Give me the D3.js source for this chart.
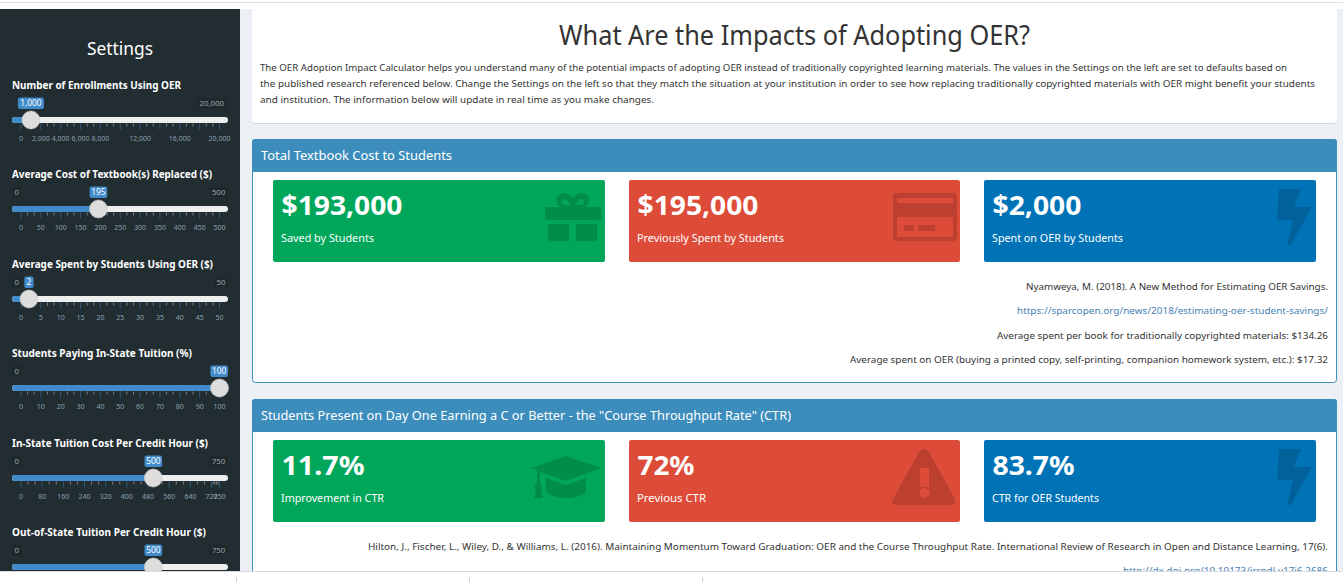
<!DOCTYPE html>
<html>
<head>
<meta charset="utf-8">
<title>What Are the Impacts of Adopting OER?</title>
<script src="https://cdnjs.cloudflare.com/ajax/libs/d3/7.8.5/d3.min.js"></script>
<style>
  html, body { margin: 0; padding: 0; background: #ecf0f5; overflow: hidden; }
  svg { display: block; font-family: "Noto Sans", sans-serif; }
</style>
</head>
<body>
<div id="chart"></div>
<script>
"use strict";

// slider settings
var sliderLabels = [
    "Number of Enrollments Using OER",
    "Average Cost of Textbook(s) Replaced ($)",
    "Average Spent by Students Using OER ($)",
    "Students Paying In-State Tuition (%)",
    "In-State Tuition Cost Per Credit Hour ($)",
    "Out-of-State Tuition Per Credit Hour ($)"
];
var sliderValues = [1000, 195, 2, 100, 500, 500];
var sliderMaxes = [20000, 500, 50, 100, 750, 750];
var sliderTicks = [
    [0, 2000, 4000, 6000, 8000, 10000, 12000, 14000, 16000, 18000, 20000],
    [0, 50, 100, 150, 200, 250, 300, 350, 400, 450, 500],
    [0, 5, 10, 15, 20, 25, 30, 35, 40, 45, 50],
    [0, 10, 20, 30, 40, 50, 60, 70, 80, 90, 100],
    [0, 80, 160, 240, 320, 400, 480, 560, 640, 720, 750],
    [] // the last slider's grid is below the fold
];
// tick labels the slider leaves out because they would collide
var sliderHiddenLabels = [[10000, 14000, 18000], [], [], [], [], []];

// value boxes
var costValues = [193000, 195000, 2000];
var costCaptions = ["Saved by Students", "Previously Spent by Students", "Spent on OER by Students"];
var ctrValues = [11.7, 72, 83.7];
var ctrCaptions = ["Improvement in CTR", "Previous CTR", "CTR for OER Students"];

var pageTitle = "What Are the Impacts of Adopting OER?";
var introLines = [
    "The OER Adoption Impact Calculator helps you understand many of the potential impacts of adopting OER instead of traditionally copyrighted learning materials. The values in the Settings on the left are set to defaults based on",
    "the published research referenced below. Change the Settings on the left so that they match the situation at your institution in order to see how replacing traditionally copyrighted materials with OER might benefit your students",
    "and institution. The information below will update in real time as you make changes."
];
var costTitle = "Total Textbook Cost to Students";
var ctrTitle = "Students Present on Day One Earning a C or Better - the \"Course Throughput Rate\" (CTR)";
var costNotes = [
    "Nyamweya, M. (2018). A New Method for Estimating OER Savings.",
    "https://sparcopen.org/news/2018/estimating-oer-student-savings/",
    "Average spent per book for traditionally copyrighted materials: $134.26",
    "Average spent on OER (buying a printed copy, self-printing, companion homework system, etc.): $17.32"
];
var ctrNotes = [
    "Hilton, J., Fischer, L., Wiley, D., & Williams, L. (2016). Maintaining Momentum Toward Graduation: OER and the Course Throughput Rate. International Review of Research in Open and Distance Learning, 17(6).",
    "http://dx.doi.org/10.19173/irrodl.v17i6.2686"
];

var width = 1343, height = 582;
var green = "#00a65a", red = "#dd4b39", blue = "#0073b7", headerBlue = "#3c8dbc";

var svg = d3.select("#chart").append("svg")
    .attr("width", width)
    .attr("height", height);

svg.append("rect").attr("width", width).attr("height", height).attr("fill", "#ecf0f5");

// squeeze a label to the width it has in the page font
function fit(sel, w) {
    sel.attr("textLength", w).attr("lengthAdjust", "spacingAndGlyphs");
    return sel;
}

// --- sidebar
svg.append("rect").attr("x", 0).attr("y", 9).attr("width", 240).attr("height", 565).attr("fill", "#222d32");
fit(svg.append("text")
    .attr("x", 87).attr("y", 55)
    .attr("font-size", 17.5).attr("fill", "#fff")
    .text("Settings"), 66);

var labelWidths = [169, 200, 201, 180, 196, 194];
var sliderPitch = 89.5;

sliderLabels.forEach(function(label, i) {
    var top = Math.floor(i * sliderPitch);
    var g = svg.append("g").attr("transform", "translate(0," + top + ")");
    var x = d3.scaleLinear().domain([0, sliderMaxes[i]]).range([21, 219.5]);
    var fmt = d3.format(",");
    var value = sliderValues[i];
    var valW = fmt(value).length * 4.2 + 5;
    var chipLeft = Math.min(228 - valW, Math.max(12, x(value) - valW / 2));

    fit(g.append("text")
        .attr("x", 12).attr("y", 89)
        .attr("font-size", 10.5).attr("font-weight", 700).attr("fill", "#fff")
        .text(label), labelWidths[i]);

    // min and max chips, left out when the value chip covers them
    [0, sliderMaxes[i]].forEach(function(v, k) {
        var chipW = fmt(v).length * 4.6 + 5;
        var chipX = k === 0 ? 12 : 228 - chipW;
        if (chipX < chipLeft + valW && chipLeft < chipX + chipW) return;
        g.append("rect")
            .attr("x", chipX).attr("y", 97.5)
            .attr("width", chipW).attr("height", 11).attr("rx", 2)
            .attr("fill", "#1f282d");
        g.append("text")
            .attr("x", chipX + chipW / 2).attr("y", 105.5)
            .attr("text-anchor", "middle")
            .attr("font-size", 7.8).attr("fill", "#9aa5ab")
            .text(fmt(v));
    });

    // track and filled part
    g.append("rect")
        .attr("x", 12).attr("y", 117).attr("width", 216).attr("height", 6).attr("rx", 3)
        .attr("fill", "#eeeeee");
    g.append("rect")
        .attr("x", 12).attr("y", 117).attr("width", x(value) - 12).attr("height", 6).attr("rx", 3)
        .attr("fill", "#428bca");

    // grid below the track
    var ticks = sliderTicks[i];
    var minor = [];
    d3.pairs(ticks).forEach(function(p) {
        var n = (p[1] - p[0]) / sliderMaxes[i] > 0.08 ? 2 : 4;
        d3.range(1, n + 1).forEach(function(j) {
            minor.push(p[0] + (p[1] - p[0]) * j / (n + 1));
        });
    });
    g.selectAll(".minor").data(minor).enter().append("line")
        .attr("class", "minor")
        .attr("x1", x).attr("x2", x)
        .attr("y1", 123.5).attr("y2", 126.5)
        .attr("stroke", "#8a97a0").attr("stroke-width", 0.8);
    g.selectAll(".major").data(ticks).enter().append("line")
        .attr("class", "major")
        .attr("x1", x).attr("x2", x)
        .attr("y1", 123.5).attr("y2", 129.5)
        .attr("stroke", "#33587a").attr("stroke-width", 1);
    g.selectAll(".ticklabel")
        .data(ticks.filter(function(t) { return sliderHiddenLabels[i].indexOf(t) < 0; }))
        .enter().append("text")
        .attr("class", "ticklabel")
        .attr("x", x).attr("y", 141)
        .attr("text-anchor", "middle")
        .attr("font-size", 7).attr("fill", "#8aa0b0")
        .text(fmt);

    // value chip and handle
    g.append("rect")
        .attr("x", chipLeft).attr("y", 97.5)
        .attr("width", valW).attr("height", 11.5).attr("rx", 2)
        .attr("fill", "#428bca");
    g.append("text")
        .attr("x", chipLeft + valW / 2).attr("y", 106.3)
        .attr("text-anchor", "middle")
        .attr("font-size", 8.4).attr("fill", "#fff")
        .text(fmt(value));
    g.append("circle")
        .attr("cx", x(value)).attr("cy", 120).attr("r", 9)
        .attr("fill", "#dddddd").attr("stroke", "#c8c8c8").attr("stroke-width", 0.6);
});

// --- intro panel
svg.append("rect")
    .attr("x", 252).attr("y", 10).attr("width", 1085).attr("height", 114).attr("rx", 3)
    .attr("fill", "#d2d6de");
svg.append("rect")
    .attr("x", 252).attr("y", 9).attr("width", 1085).attr("height", 114).attr("rx", 3)
    .attr("fill", "#fff");
fit(svg.append("text")
    .attr("x", 559).attr("y", 45)
    .attr("font-size", 27).attr("fill", "#333")
    .text(pageTitle), 471);

var introEnds = [1287, 1315, 654];
svg.selectAll(".intro").data(introLines).enter().append("text")
    .attr("class", "intro")
    .attr("x", 260)
    .attr("y", function(d, i) { return 71 + i * 16; })
    .attr("font-size", 9.8).attr("fill", "#333")
    .attr("textLength", function(d, i) { return introEnds[i] - 260; })
    .attr("lengthAdjust", "spacingAndGlyphs")
    .text(function(d) { return d; });

// --- icons, in box coordinates
var iconPaths = {
    gift: "M272 27h56v11a2 2 0 0 1-2 2h-52a2 2 0 0 1-2-2z" +
        "M275 44h21v17h-19a2 2 0 0 1-2-2z M303 44h21v15a2 2 0 0 1-2 2h-19z" +
        "M288 27c-6-2-6-14 3-14c4 0 7 2 9 6c2-4 5-6 9-6c9 0 9 12 3 14z" +
        "M292 19c-4 0-4 5-1 6h6c-1-3-3-6-5-6z M308 19c4 0 4 5 1 6h-6c1-3 3-6 5-6z",
    card: "M268 13h56a4 4 0 0 1 4 4v40a4 4 0 0 1-4 4h-56a4 4 0 0 1-4-4v-40a4 4 0 0 1 4-4z" +
        "M268 18v5h56v-5z M268 37v20h56v-20z" +
        "M275 45v6h10v-6z M289 45v6h17v-6z",
    bolt: "M295 9h22l-7 18h18l-21 38h-4l6-25h-16z",
    cap: "M293 16l35 12l-35 13l-26-9v12a4 4 0 0 1 1 6l2 8h-9l2-8a4 4 0 0 1 1-7v-13l-6-2z" +
        "M273 38l20 7l20-7v14c-5 4-12 6-20 6s-15-2-20-6z",
    warn: "M290 12c2-4 8-4 10 0l26 47c2 3 0 6-3 6h-56c-3 0-5-3-3-6z" +
        "M291 28v19h9v-19z M295.500 48a5 5 0 1 0 .01 0z"
};

// --- boxes
var boxLefts = [273, 629, 984];
var boxWidths = [332, 331, 332];
var boxColors = [green, red, blue];

function drawPanel(top, panelHeight, title, titleWidth, values, valueFormat, valueWidths, captions, captionWidths, icons) {
    svg.append("rect")
        .attr("x", 252.5).attr("y", top + 0.5).attr("width", 1084).attr("height", panelHeight).attr("rx", 3)
        .attr("fill", "#fff").attr("stroke", headerBlue);
    svg.append("path")
        .attr("d", "M252 " + (top + 33) + "v-30a3 3 0 0 1 3-3h1079a3 3 0 0 1 3 3v30z")
        .attr("fill", headerBlue);
    fit(svg.append("text")
        .attr("x", 261).attr("y", top + 21)
        .attr("font-size", 13).attr("fill", "#fff")
        .text(title), titleWidth);

    values.forEach(function(v, i) {
        var g = svg.append("g").attr("transform", "translate(" + boxLefts[i] + "," + (top + 41) + ")");
        g.append("rect")
            .attr("width", boxWidths[i]).attr("height", 82).attr("rx", 2)
            .attr("fill", boxColors[i]);
        g.append("path")
            .attr("d", iconPaths[icons[i]])
            .attr("fill", "#000").attr("fill-opacity", 0.15)
            .attr("fill-rule", "evenodd");
        fit(g.append("text")
            .attr("x", 8.5).attr("y", 35)
            .attr("font-size", 27).attr("font-weight", 700).attr("fill", "#fff")
            .text(valueFormat(v)), valueWidths[i]);
        fit(g.append("text")
            .attr("x", 8).attr("y", 62)
            .attr("font-size", 11).attr("fill", "#fff")
            .text(captions[i]), captionWidths[i]);
    });
}

drawPanel(139, 243, costTitle, 191, costValues, d3.format("$,"), [121, 121, 89],
    costCaptions, [93, 147, 131], ["gift", "card", "bolt"]);
drawPanel(399, 260, ctrTitle, 530, ctrValues, function(v) { return v + "%"; }, [83, 57, 82],
    ctrCaptions, [103, 69, 107], ["cap", "warn", "bolt"]);

// --- notes, right aligned in the panels
function drawNotes(lines, starts, firstBaseline, linkIndex) {
    svg.selectAll(null).data(lines).enter().append("text")
        .attr("x", function(d, i) { return starts[i]; })
        .attr("y", function(d, i) { return firstBaseline + i * 24.3; })
        .attr("font-size", 9.8)
        .attr("fill", function(d, i) { return i === linkIndex ? "#4682b4" : "#333"; })
        .attr("textLength", function(d, i) { return 1328 - starts[i]; })
        .attr("lengthAdjust", "spacingAndGlyphs")
        .text(function(d) { return d; });
}
drawNotes(costNotes, [1026, 1017, 997, 850], 290, 1);
drawNotes(ctrNotes, [368, 1123], 550, 1);

// --- browser chrome strips
svg.append("rect").attr("width", width).attr("height", 9).attr("fill", "#fff");
svg.append("rect").attr("y", 2).attr("width", width).attr("height", 1).attr("fill", "#dddddd");
svg.append("rect").attr("y", 571).attr("width", width).attr("height", 11).attr("fill", "#fff");
svg.append("rect").attr("y", 571).attr("width", width).attr("height", 1).attr("fill", "#d8dadf");
svg.selectAll(".tab").data([236, 469, 702]).enter().append("rect")
    .attr("class", "tab")
    .attr("x", function(d) { return d; }).attr("y", 577)
    .attr("width", 1).attr("height", 5)
    .attr("fill", "#cccccc");
</script>
</body>
</html>
